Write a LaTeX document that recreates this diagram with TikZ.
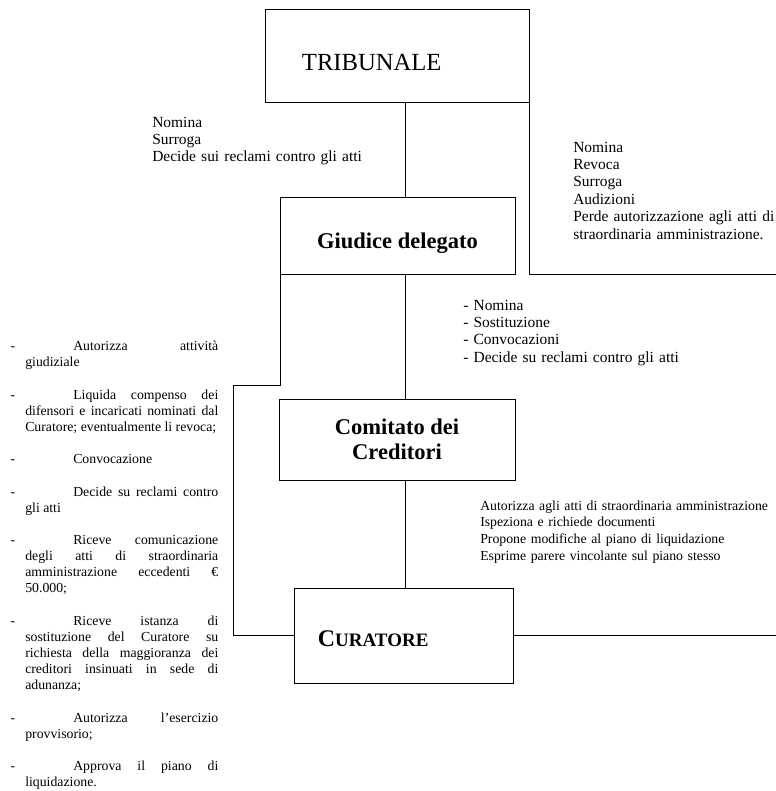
\documentclass[tikz,border=0pt]{standalone}
\usepackage{fontspec}
\setmainfont{Liberation Serif}
\usetikzlibrary{positioning,calc}
\setlength{\parindent}{0pt}
\hyphenpenalty=10000
\newcommand{\testonota}{\fontsize{11}{12.4}\selectfont}
\newcommand{\testovoce}{\fontsize{9.8}{11.45}\selectfont}
\newcommand{\inizio}{\noindent\llap{-\hspace{0.25cm}}\hspace*{1.2cm}}

\begin{document}
\begin{tikzpicture}[x=0.025cm,y=-0.025cm,
    ente/.style={draw,line width=0.6pt,inner sep=0pt,outer sep=0pt},
    titolo/.style={font=\bfseries\fontsize{16}{17.7}\selectfont,align=center},
    nota/.style={font=\testonota,text width=9cm,align=left,anchor=base west,inner sep=0pt},
    voce/.style={font=\testovoce,text width=4.825cm,align=justify,anchor=base west,inner sep=0pt},
    link/.style={line width=0.6pt}
  ]
  \useasboundingbox (0,0) rectangle (776,791);

  % organi
  \node[ente,minimum width=6.6cm,minimum height=2.325cm,text width=4.75cm,inner xsep=0.925cm,
        align=left,text height=0.8cm,text depth=0.075cm,font=\fontsize{17.5}{20}\selectfont] (tri) at (397,55.5) {TRIBUNALE};
  \node[ente,titolo,minimum width=5.875cm,minimum height=1.925cm,text height=0.75cm,text depth=0.125cm] (giu) at (397.5,235.5) {Giudice delegato};
  \node[ente,titolo,minimum width=5.9cm,minimum height=2.025cm] (com) at (397,439.5) {Comitato dei\\Creditori};
  \node[ente,minimum width=5.475cm,minimum height=2.375cm,text width=4.275cm,inner xsep=0.6cm,
        align=left,text height=0.6cm,text depth=0.075cm,font=\bfseries] (cur) at (403.5,635.5)
        {{\fontsize{17}{20}\selectfont C}{\fontsize{13.5}{16}\selectfont URATORE}};

  \coordinate (spine) at (405,0);
  \coordinate (bordo) at (776,0);
  \coordinate (gomito) at (233,385);

  % collegamenti
  \draw[link] (tri.south -| spine) -- (giu.north -| spine);
  \draw[link] (giu.south -| spine) -- (com.north -| spine);
  \draw[link] (com.south -| spine) -- (cur.north -| spine);
  \draw[link] (tri.south east) |- (giu.south -| bordo);
  \draw[link] (giu.south west) |- (gomito) |- (cur.west);
  \draw[link] (cur.east) -- (cur.east -| bordo);

  % poteri
  \node[nota] (poteriGiu) at (152,127) {Nomina\\Surroga\\Decide sui reclami contro gli atti};
  \node[nota] (poteriCur) at (573,152) {Nomina\\Revoca\\Surroga\\Audizioni\\Perde autorizzazione agli atti di\\straordinaria amministrazione.};
  \node[nota] (poteriCom) at (463,310) {- Nomina\\- Sostituzione\\- Convocazioni\\- Decide su reclami contro gli atti};
  \node[nota,font=\fontsize{9.8}{12}\selectfont] (attiCom) at (480,510)
    {Autorizza agli atti di straordinaria amministrazione\\Ispeziona e richiede documenti\\Propone modifiche al piano di liquidazione\\Esprime parere vincolante sul piano stesso};

  % competenze del giudice delegato
  \node[voce] (v1) at (25,350.5) {\inizio Autorizza attività\linebreak giudiziale};
  \node[voce] (v2) at (25,399) {\inizio Liquida compenso dei\linebreak difensori e incaricati nominati dal\linebreak Curatore; eventualmente li revoca;};
  \node[voce] (v3) at (25,463.5) {\inizio Convocazione};
  \node[voce] (v4) at (25,496) {\inizio Decide su reclami contro\linebreak gli atti};
  \node[voce] (v5) at (25,544.5) {\inizio Riceve comunicazione\linebreak degli atti di straordinaria\linebreak amministrazione eccedenti €\linebreak 50.000;};
  \node[voce] (v6) at (25,625) {\inizio Riceve istanza di\linebreak sostituzione del Curatore su\linebreak richiesta della maggioranza dei\linebreak creditori insinuati in sede di\linebreak adunanza;};
  \node[voce] (v7) at (25,722) {\inizio Autorizza l'esercizio\linebreak provvisorio;};
  \node[voce] (v8) at (25,770.5) {\inizio Approva il piano di\linebreak liquidazione.};
\end{tikzpicture}
\end{document}
